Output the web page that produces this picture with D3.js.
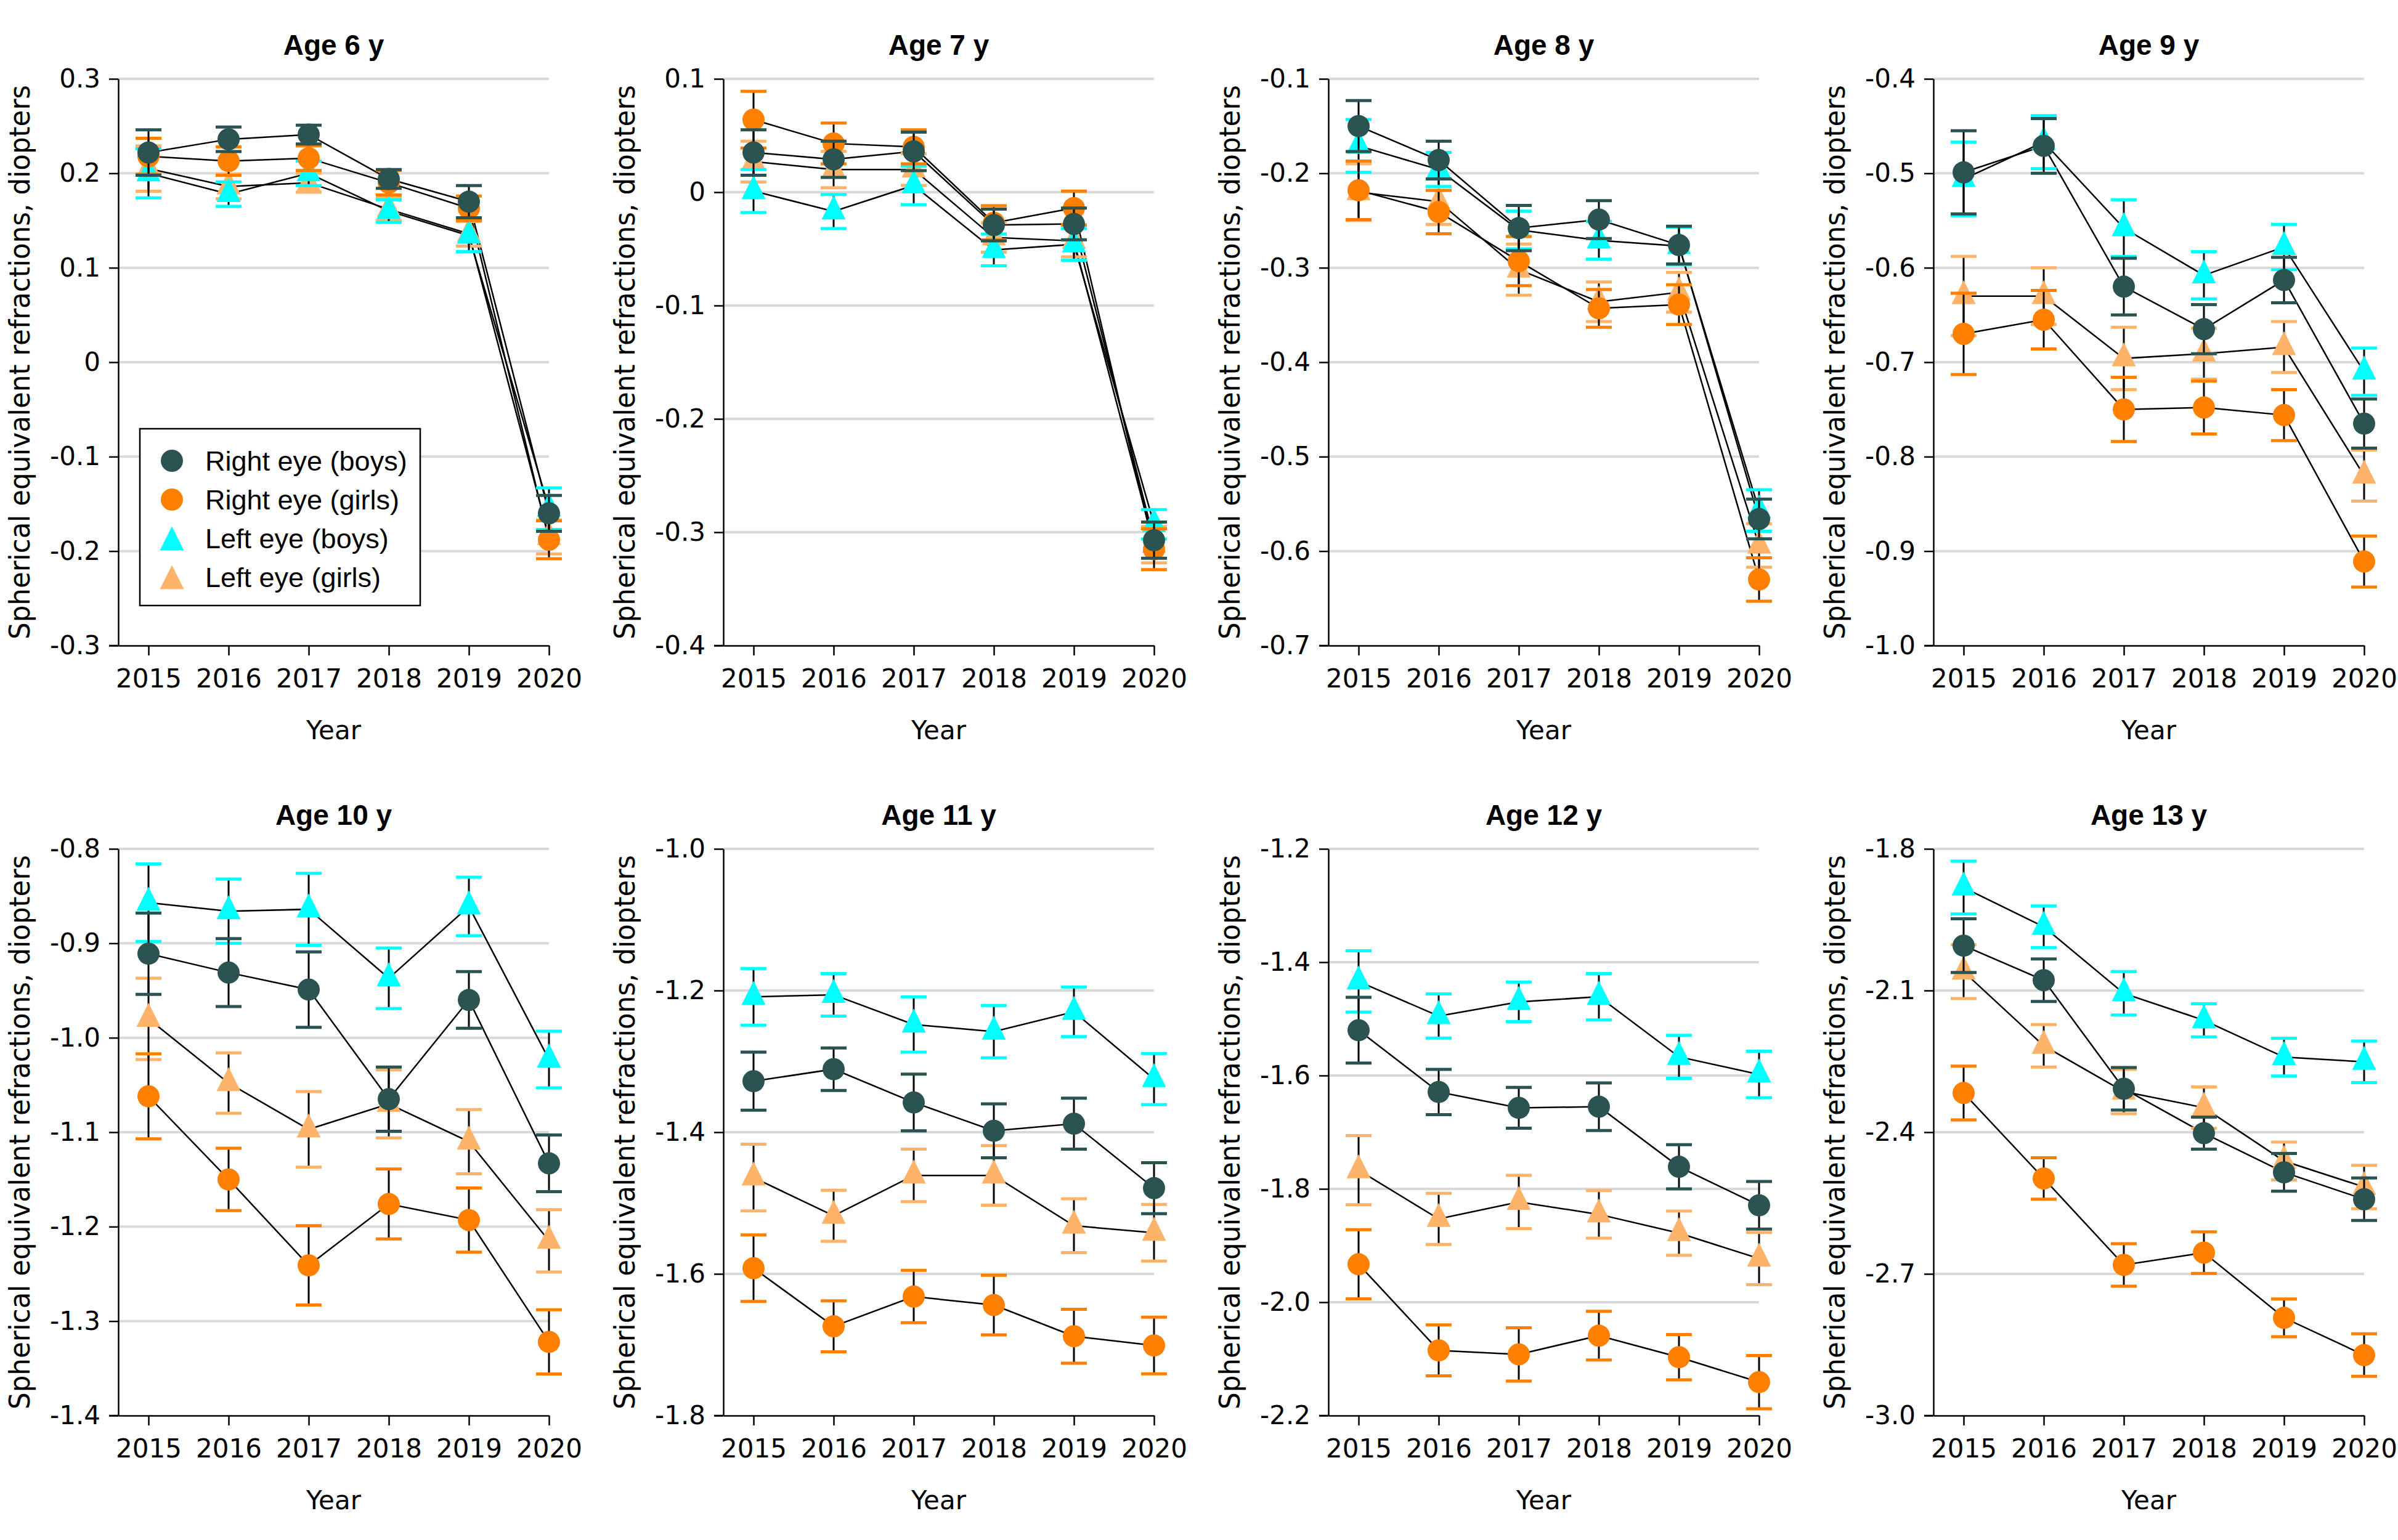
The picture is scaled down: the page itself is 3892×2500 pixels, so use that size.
<!DOCTYPE html>
<html><head><meta charset="utf-8">
<script src="https://cdn.jsdelivr.net/npm/d3@7/dist/d3.min.js"></script>
<style>body{margin:0;background:#fff}</style>
</head><body>
<svg id="chart" width="3892" height="2500" xmlns="http://www.w3.org/2000/svg"></svg>
<script>
// ---------- data ----------
const ages = [6, 7, 8, 9, 10, 11, 12, 13];
const years = [2015, 2016, 2017, 2018, 2019, 2020];
const yDomains = [[-0.3,0.3],[-0.4,0.1],[-0.7,-0.1],[-1.0,-0.4],[-1.4,-0.8],[-1.8,-1.0],[-2.2,-1.2],[-3.0,-1.8]];
const yTicks = [
  [0.3,0.2,0.1,0,-0.1,-0.2,-0.3],
  [0.1,0,-0.1,-0.2,-0.3,-0.4],
  [-0.1,-0.2,-0.3,-0.4,-0.5,-0.6,-0.7],
  [-0.4,-0.5,-0.6,-0.7,-0.8,-0.9,-1.0],
  [-0.8,-0.9,-1.0,-1.1,-1.2,-1.3,-1.4],
  [-1.0,-1.2,-1.4,-1.6,-1.8],
  [-1.2,-1.4,-1.6,-1.8,-2.0,-2.2],
  [-1.8,-2.1,-2.4,-2.7,-3.0]
];
const yTickLabels = [
  ["0.3","0.2","0.1","0","-0.1","-0.2","-0.3"],
  ["0.1","0","-0.1","-0.2","-0.3","-0.4"],
  ["-0.1","-0.2","-0.3","-0.4","-0.5","-0.6","-0.7"],
  ["-0.4","-0.5","-0.6","-0.7","-0.8","-0.9","-1.0"],
  ["-0.8","-0.9","-1.0","-1.1","-1.2","-1.3","-1.4"],
  ["-1.0","-1.2","-1.4","-1.6","-1.8"],
  ["-1.2","-1.4","-1.6","-1.8","-2.0","-2.2"],
  ["-1.8","-2.1","-2.4","-2.7","-3.0"]
];

const rightBoys = [
  [0.222, 0.236, 0.241, 0.194, 0.170, -0.160],
  [0.035, 0.029, 0.036, -0.029, -0.028, -0.307],
  [-0.150, -0.186, -0.258, -0.249, -0.276, -0.566],
  [-0.499, -0.471, -0.620, -0.665, -0.613, -0.765],
  [-0.911, -0.931, -0.949, -1.065, -0.960, -1.133],
  [-1.328, -1.311, -1.358, -1.398, -1.388, -1.479],
  [-1.520, -1.629, -1.657, -1.655, -1.761, -1.829],
  [-2.005, -2.078, -2.308, -2.402, -2.485, -2.542]
];
const rightBoysErr = [
  [0.024, 0.013, 0.010, 0.010, 0.017, 0.019],
  [0.020, 0.016, 0.017, 0.014, 0.014, 0.016],
  [0.027, 0.020, 0.024, 0.020, 0.020, 0.021],
  [0.044, 0.029, 0.030, 0.026, 0.024, 0.026],
  [0.043, 0.036, 0.040, 0.034, 0.030, 0.030],
  [0.041, 0.030, 0.040, 0.038, 0.036, 0.036],
  [0.058, 0.040, 0.036, 0.042, 0.039, 0.042],
  [0.057, 0.045, 0.045, 0.034, 0.040, 0.045]
];
const rightGirls = [
  [0.218, 0.213, 0.216, 0.190, 0.163, -0.188],
  [0.064, 0.043, 0.040, -0.027, -0.014, -0.315],
  [-0.218, -0.241, -0.293, -0.343, -0.339, -0.630],
  [-0.670, -0.655, -0.750, -0.748, -0.756, -0.911],
  [-1.062, -1.150, -1.241, -1.176, -1.193, -1.322],
  [-1.592, -1.674, -1.632, -1.644, -1.688, -1.701],
  [-1.933, -2.085, -2.092, -2.059, -2.097, -2.141],
  [-2.317, -2.498, -2.681, -2.655, -2.793, -2.872]
];
const rightGirlsErr = [
  [0.019, 0.015, 0.013, 0.013, 0.013, 0.020],
  [0.025, 0.018, 0.015, 0.015, 0.015, 0.018],
  [0.031, 0.023, 0.026, 0.020, 0.021, 0.023],
  [0.043, 0.031, 0.034, 0.028, 0.027, 0.027],
  [0.045, 0.033, 0.042, 0.037, 0.034, 0.034],
  [0.047, 0.036, 0.037, 0.042, 0.038, 0.040],
  [0.061, 0.045, 0.047, 0.043, 0.040, 0.047],
  [0.057, 0.044, 0.045, 0.044, 0.040, 0.045]
];
const leftBoys = [
  [0.200, 0.178, 0.200, 0.160, 0.134, -0.155],
  [0.001, -0.017, 0.006, -0.051, -0.046, -0.293],
  [-0.171, -0.196, -0.260, -0.271, -0.277, -0.557],
  [-0.506, -0.467, -0.558, -0.608, -0.578, -0.710],
  [-0.857, -0.866, -0.864, -0.937, -0.861, -1.023],
  [-1.209, -1.206, -1.248, -1.258, -1.230, -1.325],
  [-1.434, -1.495, -1.470, -1.461, -1.567, -1.598],
  [-1.882, -1.965, -2.106, -2.163, -2.241, -2.251]
];
const leftBoysErr = [
  [0.026, 0.013, 0.013, 0.012, 0.017, 0.022],
  [0.019, 0.015, 0.017, 0.014, 0.014, 0.013],
  [0.028, 0.018, 0.020, 0.020, 0.020, 0.022],
  [0.039, 0.028, 0.030, 0.025, 0.024, 0.025],
  [0.041, 0.034, 0.038, 0.032, 0.031, 0.030],
  [0.040, 0.030, 0.039, 0.037, 0.035, 0.036],
  [0.054, 0.039, 0.035, 0.041, 0.038, 0.041],
  [0.056, 0.044, 0.046, 0.035, 0.040, 0.044]
];
const leftGirls = [
  [0.205, 0.186, 0.190, 0.162, 0.136, -0.185],
  [0.027, 0.020, 0.020, -0.040, -0.043, -0.311],
  [-0.220, -0.230, -0.302, -0.336, -0.326, -0.594],
  [-0.630, -0.630, -0.696, -0.691, -0.684, -0.820],
  [-0.980, -1.048, -1.097, -1.070, -1.110, -1.215],
  [-1.464, -1.518, -1.461, -1.461, -1.532, -1.542],
  [-1.767, -1.853, -1.823, -1.845, -1.878, -1.923],
  [-2.060, -2.217, -2.314, -2.348, -2.461, -2.516]
];
const leftGirlsErr = [
  [0.024, 0.013, 0.010, 0.012, 0.013, 0.018],
  [0.018, 0.016, 0.014, 0.013, 0.014, 0.016],
  [0.030, 0.024, 0.027, 0.021, 0.021, 0.023],
  [0.042, 0.030, 0.033, 0.027, 0.027, 0.027],
  [0.043, 0.032, 0.040, 0.036, 0.034, 0.033],
  [0.047, 0.036, 0.037, 0.042, 0.038, 0.040],
  [0.061, 0.045, 0.047, 0.042, 0.039, 0.046],
  [0.057, 0.045, 0.047, 0.044, 0.040, 0.046]
];
const seriesNames = ["Right eye (boys)", "Right eye (girls)", "Left eye (boys)", "Left eye (girls)"];

// ---------- styling ----------
const colors = {"Right eye (boys)": "#2b5351", "Right eye (girls)": "#ff7f00", "Left eye (boys)": "#00ffff", "Left eye (girls)": "#fdb46a"};
const shapes = {"Right eye (boys)": "circle", "Right eye (girls)": "circle", "Left eye (boys)": "triangle", "Left eye (girls)": "triangle"};
const seriesData = {
  "Right eye (boys)": [rightBoys, rightBoysErr],
  "Right eye (girls)": [rightGirls, rightGirlsErr],
  "Left eye (boys)": [leftBoys, leftBoysErr],
  "Left eye (girls)": [leftGirls, leftGirlsErr]
};
const drawOrder = ["Left eye (girls)", "Left eye (boys)", "Right eye (girls)", "Right eye (boys)"];

const svg = d3.select("#chart");
const plotW = 699, plotH = 920;
const colX0 = 192, colStep = 982, rowY0 = 128, rowStep = 1250;
const tickFont = "'DejaVu Sans', sans-serif";
const triPath = "M0,-26L19.5,13L-19.5,13Z";

function drawMarker(g, shape, color, cx, cy) {
  if (shape === "circle") {
    g.append("circle").attr("cx", cx).attr("cy", cy).attr("r", 18).attr("fill", color);
  } else {
    g.append("path").attr("d", triPath).attr("transform", `translate(${cx},${cy})`).attr("fill", color);
  }
}

ages.forEach((age, p) => {
  const col = p % 4, row = Math.floor(p / 4);
  const g = svg.append("g").attr("transform", `translate(${colX0 + col * colStep},${rowY0 + row * rowStep})`);
  const x = d3.scaleLinear().domain([2015 - 49 / 130, 2020]).range([0, plotW]);
  const y = d3.scaleLinear().domain(yDomains[p]).range([plotH, 0]);

  // gridlines
  g.append("g").selectAll("line").data(yTicks[p].filter(t => t !== yDomains[p][0])).join("line")
    .attr("x1", 0).attr("x2", plotW).attr("y1", d => y(d)).attr("y2", d => y(d))
    .attr("stroke", "#d9d9d9").attr("stroke-width", 4);

  // y axis
  const ya = g.append("g").call(d3.axisLeft(y).tickValues(yTicks[p]).tickFormat((d, i) => yTickLabels[p][i]).tickSize(15).tickSizeOuter(0).tickPadding(14));
  // x axis
  const xa = g.append("g").attr("transform", `translate(0,${plotH})`)
    .call(d3.axisBottom(x).tickValues(years).tickFormat(d3.format("d")).tickSize(16).tickSizeOuter(0).tickPadding(22));
  [ya, xa].forEach(a => {
    a.selectAll("path.domain").attr("stroke", "#000").attr("stroke-width", 2.5);
    a.selectAll(".tick line").attr("stroke", "#000").attr("stroke-width", 2.5);
    a.selectAll("text").attr("fill", "#000").style("font-family", tickFont).style("font-size", "42px");
  });
  // extend x axis to the left to meet bottom tick
  g.append("line").attr("x1", -15).attr("x2", 0).attr("y1", plotH).attr("y2", plotH).attr("stroke", "#000").attr("stroke-width", 2.5);

  // title
  g.append("text").attr("x", plotW / 2).attr("y", -39).attr("text-anchor", "middle")
    .style("font-family", "'Liberation Sans', Arial, sans-serif").style("font-weight", "bold").style("font-size", "46px")
    .text(`Age ${age} y`);
  // x label
  g.append("text").attr("x", plotW / 2).attr("y", plotH + 152).attr("text-anchor", "middle")
    .style("font-family", tickFont).style("font-size", "42px").text("Year");
  // y label
  g.append("text").attr("transform", `translate(-160,${plotH / 2}) rotate(-90)`).attr("text-anchor", "middle")
    .attr("dominant-baseline", "central")
    .attr("textLength", 900).attr("lengthAdjust", "spacingAndGlyphs")
    .style("font-family", "'Liberation Sans Narrow', 'DejaVu Sans Condensed', 'Liberation Sans', sans-serif").style("font-size", "46px")
    .text("Spherical equivalent refractions, diopters");

  // connecting lines
  const line = d3.line().x((d, i) => x(years[i])).y(d => y(d));
  drawOrder.forEach(name => {
    g.append("path").attr("d", line(seriesData[name][0][p])).attr("fill", "none").attr("stroke", "#000").attr("stroke-width", 2.5);
  });

  // error bars + markers
  drawOrder.forEach(name => {
    const vals = seriesData[name][0][p], errs = seriesData[name][1][p];
    const sg = g.append("g");
    vals.forEach((v, i) => {
      const cx = x(years[i]);
      sg.append("line").attr("x1", cx).attr("x2", cx).attr("y1", y(v - errs[i])).attr("y2", y(v + errs[i]))
        .attr("stroke", "#000").attr("stroke-width", 3);
      [v - errs[i], v + errs[i]].forEach(c => {
        sg.append("line").attr("x1", cx - 21).attr("x2", cx + 21).attr("y1", y(c)).attr("y2", y(c))
          .attr("stroke", colors[name]).attr("stroke-width", 5);
      });
    });
    vals.forEach((v, i) => drawMarker(sg, shapes[name], colors[name], x(years[i]), y(v)));
  });

  // legend in the first panel
  if (p === 0) {
    const lg = svg.append("g");
    lg.append("rect").attr("x", 227).attr("y", 696).attr("width", 455).attr("height", 287)
      .attr("fill", "#fff").attr("stroke", "#000").attr("stroke-width", 2.5);
    seriesNames.forEach((name, i) => {
      const cy = 748 + i * 63;
      drawMarker(lg, shapes[name], colors[name], 279, shapes[name] === "circle" ? cy : cy + 6.5);
      lg.append("text").attr("x", 333).attr("y", cy).attr("dominant-baseline", "central")
        .style("font-family", "'Liberation Sans', Arial, sans-serif").style("font-size", "45px").text(name);
    });
  }
});
</script>
</body></html>
